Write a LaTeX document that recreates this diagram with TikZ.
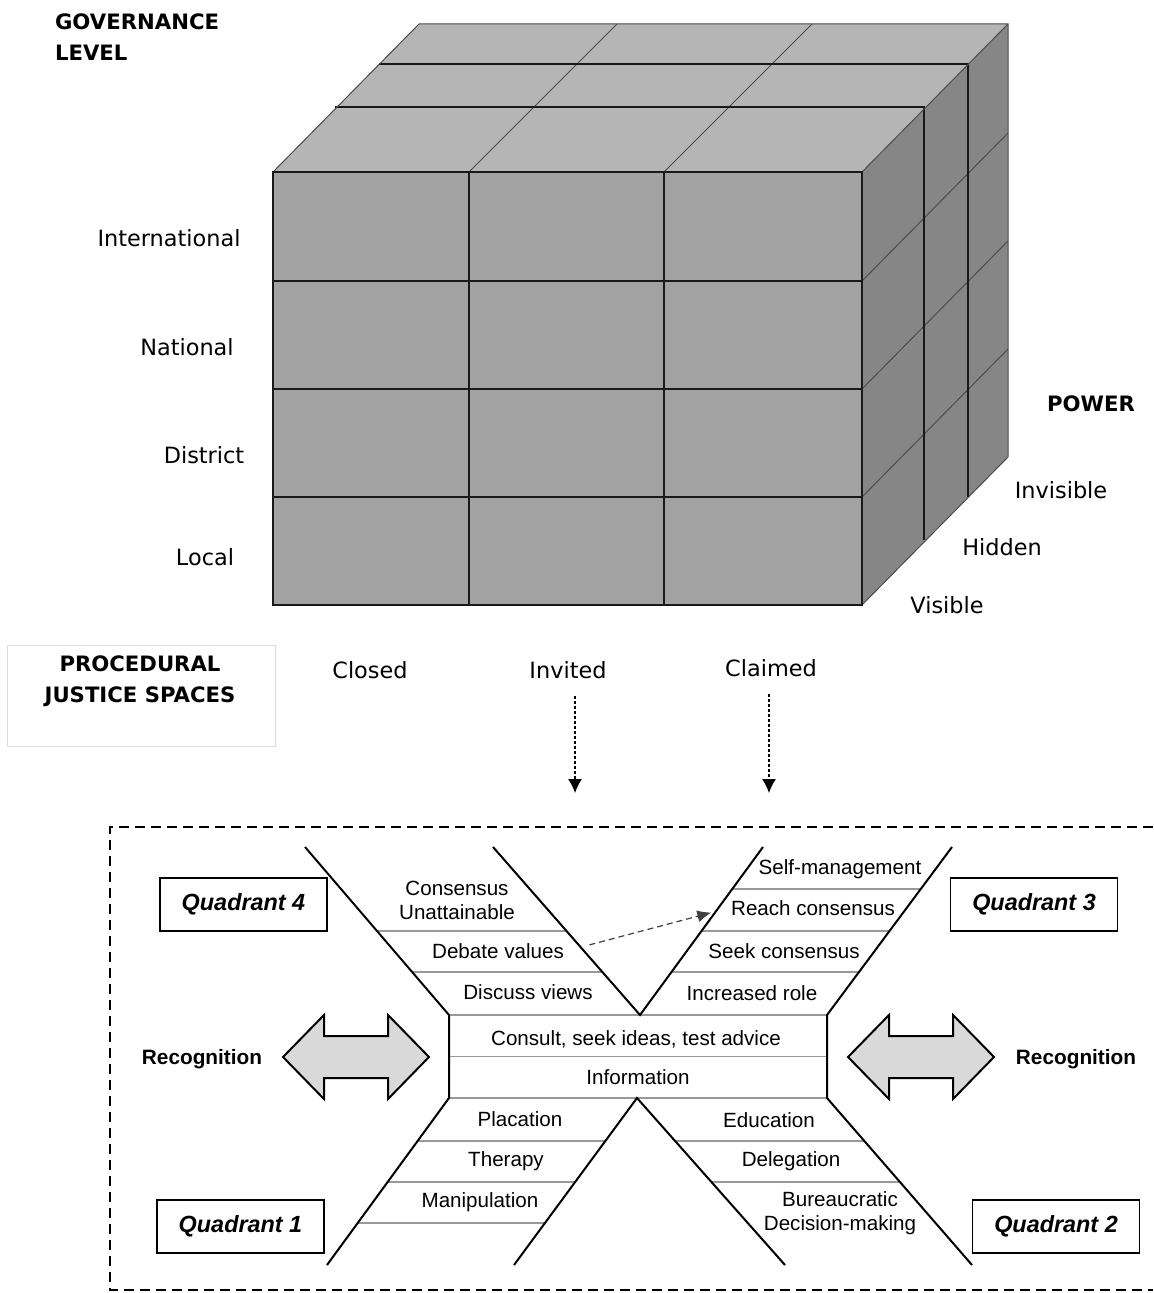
\documentclass[tikz,border=0pt]{standalone}
\usepackage{fontspec}
\setmainfont{Liberation Sans}
\newfontfamily\cubefont{DejaVu Sans}
\usepackage{tikz}
\usetikzlibrary{calc,arrows,arrows.meta,positioning}
\definecolor{topgray}{RGB}{181,181,181}
\definecolor{frontgray}{RGB}{162,162,162}
\definecolor{sidegray}{RGB}{134,134,134}
\definecolor{arrowfill}{RGB}{217,217,217}

\begin{document}
\begin{tikzpicture}[x=0.5pt,y=-0.5pt,
    cubeline/.style={draw=black!90,line width=0.65pt},
    faintline/.style={draw=black!70,line width=0.5pt},
    axislabel/.style={font=\cubefont\fontsize{11.2}{13}\selectfont},
    axistitle/.style={font=\cubefont\bfseries\fontsize{10.6}{15.5}\selectfont,align=center},
    rung/.style={draw=black!40,line width=0.7pt},
    side/.style={draw,line width=1pt},
    rungtext/.style={font=\fontsize{10.3}{12}\selectfont,align=center,inner sep=1pt},
    quadbox/.style={draw,line width=0.6pt,minimum width=83.5pt,minimum height=26.5pt,
      font=\bfseries\itshape\fontsize{11.7}{13}\selectfont},
    recarrow/.style={draw,line width=1pt,fill=arrowfill,line join=miter},
    dotarrow/.style={dash pattern=on 1.5pt off 1pt,line width=0.6pt,-{Latex[length=7pt,width=7pt]}},
  ]
  \useasboundingbox (0,0) rectangle (1153,1293);

  \fill[topgray] (273,172) -- (862,172) -- (1008,24) -- (419,24) -- cycle;
  \fill[sidegray] (862,172) -- (1008,24) -- (1008,457) -- (862,605) -- cycle;
  \fill[frontgray] (273,172) rectangle (862,605);
  \foreach \y in {281,389,497} {
    \draw[cubeline] (273,\y) -- (862,\y);
    \draw[faintline] (862,\y) -- ++(146,-148);
  }
  \foreach \x in {469,664}
    \draw[cubeline] (\x,172) -- (\x,605);
  \foreach \x in {469,664}
    \draw[faintline] (\x,172) -- ++(148,-148);
  \foreach \dx/\dy in {62/65,106/108}
    \draw[cubeline] (273+\dx,172-\dy) -- (862+\dx,172-\dy) -- (862+\dx,605-\dy);
  \draw[faintline] (273,172) -- (419,24) -- (1008,24) -- (1008,457) -- (862,605)
    (862,172) -- (1008,24);
  \draw[cubeline] (273,172) rectangle (862,605);

  \node[axistitle,anchor=west,align=left] (gov) at (48,37) {GOVERNANCE\\LEVEL};
  \node[axislabel] (intl) at (169,238) {International};
  \node[axislabel] (natl) at (187,347) {National};
  \node[axislabel] (dist) at (204,455) {District};
  \node[axislabel] (local) at (205,557) {Local};
  \node[axistitle] (power) at (1091,404) {POWER};
  \node[axislabel] (invisible) at (1061,490) {Invisible};
  \node[axislabel] (hidden) at (1002,547) {Hidden};
  \node[axislabel] (visible) at (947,605) {Visible};

  \draw[black!13,line width=0.5pt] (7,645) rectangle (275,746);
  \node[axistitle] (spaces) at (140,681) {PROCEDURAL\\JUSTICE SPACES};
  \node[axislabel] (closed) at (370,670) {Closed};
  \node[axislabel] (invited) at (568,670) {Invited};
  \node[axislabel] (claimed) at (771,668) {Claimed};
  \coordinate (invtip) at (575,793);
  \coordinate (clatip) at (769,793);
  \draw[dotarrow,shorten <=5pt] (invited.south -| invtip) -- (invtip);
  \draw[dotarrow,shorten <=5pt] (claimed.south -| clatip) -- (clatip);

  \draw[dash pattern=on 5pt off 3pt,line width=0.8pt]
    (1153,827) -- (110,827) -- (110,1290) -- (1153,1290);

  \coordinate (ol1) at (305,847);
  \coordinate (ol2) at (449,1015);
  \coordinate (ol3) at (449,1098);
  \coordinate (ol4) at (327,1265);
  \coordinate (il1) at (493,847);
  \coordinate (vb) at (640,1015);
  \coordinate (ir1) at (763,847);
  \coordinate (or1) at (952,847);
  \coordinate (or2) at (827,1015);
  \coordinate (or3) at (827,1098);
  \coordinate (or4) at (972,1265);
  \coordinate (lil) at (514,1265);
  \coordinate (apex) at (637,1098);
  \coordinate (lir) at (785,1265);

  \foreach \t in {0.5,0.744}
    \draw[rung] ($(ol1)!\t!(ol2)$) -- ($(il1)!\t!(vb)$);
  \foreach \t in {0.25,0.5,0.744}
    \draw[rung] ($(ir1)!\t!(vb)$) -- ($(or1)!\t!(or2)$);
  \foreach \t in {0.257,0.503,0.749}
    \draw[rung] ($(ol3)!\t!(ol4)$) -- ($(apex)!\t!(lil)$);
  \foreach \t in {0.257,0.503}
    \draw[rung] ($(apex)!\t!(lir)$) -- ($(or3)!\t!(or4)$);
  \draw[rung] (ol2) -- (or2) ($(ol2)!0.5!(ol3)$) -- ($(or2)!0.5!(or3)$) (ol3) -- (or3);

  \draw[side] (ol1) -- (ol2) -- (ol3) -- (ol4);
  \draw[side] (or1) -- (or2) -- (or3) -- (or4);
  \draw[side] (il1) -- (vb) -- (ir1);
  \draw[side] (lil) -- (apex) -- (lir);

  \node[rungtext] (unatt) at (457,900) {Consensus\\Unattainable};
  \node[rungtext] (debate) at (498,951) {Debate values};
  \node[rungtext] (discuss) at (528,992) {Discuss views};
  \node[rungtext] (consult) at (636,1039) {Consult, seek ideas, test advice};
  \node[rungtext] (info) at (638,1077) {Information};
  \node[rungtext] (placation) at (520,1119) {Placation};
  \node[rungtext] (therapy) at (506,1161) {Therapy};
  \node[rungtext] (manip) at (480,1202) {Manipulation};
  \node[rungtext] (selfman) at (840,869) {Self-management};
  \node[rungtext] (reach) at (813,908) {Reach consensus};
  \node[rungtext] (seek) at (784,951) {Seek consensus};
  \node[rungtext] (role) at (752,993) {Increased role};
  \node[rungtext] (educ) at (769,1120) {Education};
  \node[rungtext] (deleg) at (791,1161) {Delegation};
  \node[rungtext] (bureau) at (840,1213) {Bureaucratic\\Decision-making};

  \draw[black!75,line width=0.6pt,dash pattern=on 3pt off 2pt,-{Latex[length=7pt,width=6pt]},
    shorten <=12pt,shorten >=9pt] (debate.east) -- (reach.west);

  \node[quadbox] (q4) at (243.5,904.5) {Quadrant 4};
  \node[quadbox] (q3) at (1034,904.5) {Quadrant 3};
  \node[quadbox] (q1) at (240.5,1226.5) {Quadrant 1};
  \node[quadbox] (q2) at (1056,1226.5) {Quadrant 2};

  \node[font=\bfseries\fontsize{10.4}{12}\selectfont] (recleft) at (202,1059) {Recognition};
  \node[font=\bfseries\fontsize{10.4}{12}\selectfont] (recright) at (1076,1059) {Recognition};
  \foreach \cx in {356,921}
    \draw[recarrow] (\cx-73,1057) -- ++(41,-42) -- ++(0,21) -- ++(64,0) -- ++(0,-21)
      -- ++(41,42) -- ++(-41,42) -- ++(0,-21) -- ++(-64,0) -- ++(0,21) -- cycle;
\end{tikzpicture}
\end{document}
